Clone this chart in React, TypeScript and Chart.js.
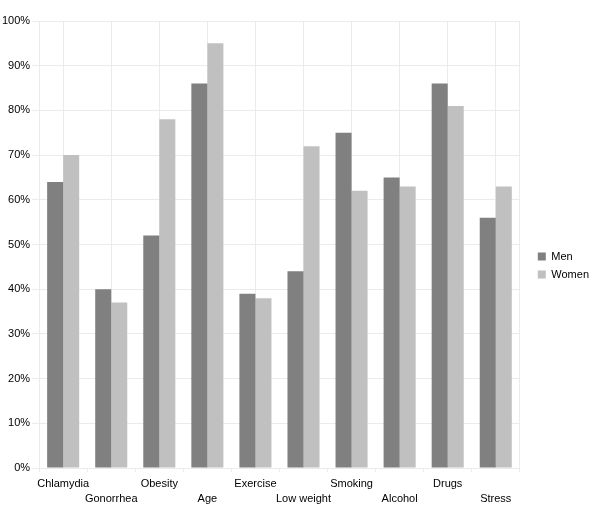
import React, { useEffect, useRef } from 'react';
import { Chart, registerables } from 'chart.js';

Chart.register(...registerables);

const categories = ['Chlamydia', 'Gonorrhea', 'Obesity', 'Age', 'Exercise', 'Low weight', 'Smoking', 'Alcohol', 'Drugs', 'Stress'];
const menValues = [64, 40, 52, 86, 39, 44, 75, 65, 86, 56];
const womenValues = [70, 37, 78, 95, 38, 72, 62, 63, 81, 63];
const seriesNames = ['Men', 'Women'];
const yTickMax = 100;
const yTickStep = 10;

const FONT = "'Liberation Sans', Arial, sans-serif";
const GRID = '#ebebeb';

export default function App() {
  const ref = useRef<HTMLCanvasElement | null>(null);

  useEffect(() => {
    if (!ref.current) return;
    const chart = new Chart(ref.current, {
      type: 'bar',
      data: {
        labels: categories,
        datasets: [
          {
            label: seriesNames[0],
            data: menValues,
            backgroundColor: '#808080',
            borderWidth: 0,
            categoryPercentage: 0.667,
            barPercentage: 1,
          },
          {
            label: seriesNames[1],
            data: womenValues,
            backgroundColor: '#c0c0c0',
            borderWidth: 0,
            categoryPercentage: 0.667,
            barPercentage: 1,
          },
        ],
      },
      options: {
        responsive: false,
        animation: false,
        layout: { padding: { left: 0, top: 21, right: 1, bottom: 6 } },
        plugins: {
          legend: {
            position: 'right',
            labels: {
              boxWidth: 8,
              boxHeight: 8,
              padding: 7,
              color: '#000',
              font: { family: FONT, size: 11 },
            },
          },
          tooltip: { enabled: false },
        },
        scales: {
          x: {
            type: 'category',
            position: 'bottom',
            grid: {
              offset: true,
              drawOnChartArea: false,
              drawTicks: true,
              tickLength: 4,
              color: GRID,
            },
            border: { display: true, color: GRID },
            ticks: {
              color: '#000',
              padding: 4,
              maxRotation: 0,
              autoSkip: false,
              font: { family: FONT, size: 11, lineHeight: '15px' },
              callback: (_v: any, i: number) => (i % 2 === 0 ? categories[i] : ['', categories[i]]),
            },
          },
          x2: {
            type: 'category',
            position: 'top',
            grid: { offset: false, drawTicks: false, color: GRID },
            border: { display: false },
            ticks: { display: false, padding: 0 },
          },
          y: {
            min: 0,
            max: yTickMax,
            position: 'left',
            grid: { color: GRID, tickLength: 7 },
            border: { display: true, color: GRID },
            ticks: {
              stepSize: yTickStep,
              color: '#000',
              padding: 2,
              font: { family: FONT, size: 11 },
              callback: (v: any) => v + '%',
            },
          },
          y2: {
            position: 'right',
            min: 0,
            max: yTickMax,
            grid: { display: false },
            border: { display: true, color: GRID },
            ticks: { display: false },
            afterFit: (s: any) => {
              s.width = 11;
            },
          },
        },
      },
    });
    return () => chart.destroy();
  }, []);

  return (
    <div style={{ position: 'absolute', left: 0, top: 0, width: 600, height: 516 }}>
      <canvas ref={ref} width={600} height={516} />
    </div>
  );
}
